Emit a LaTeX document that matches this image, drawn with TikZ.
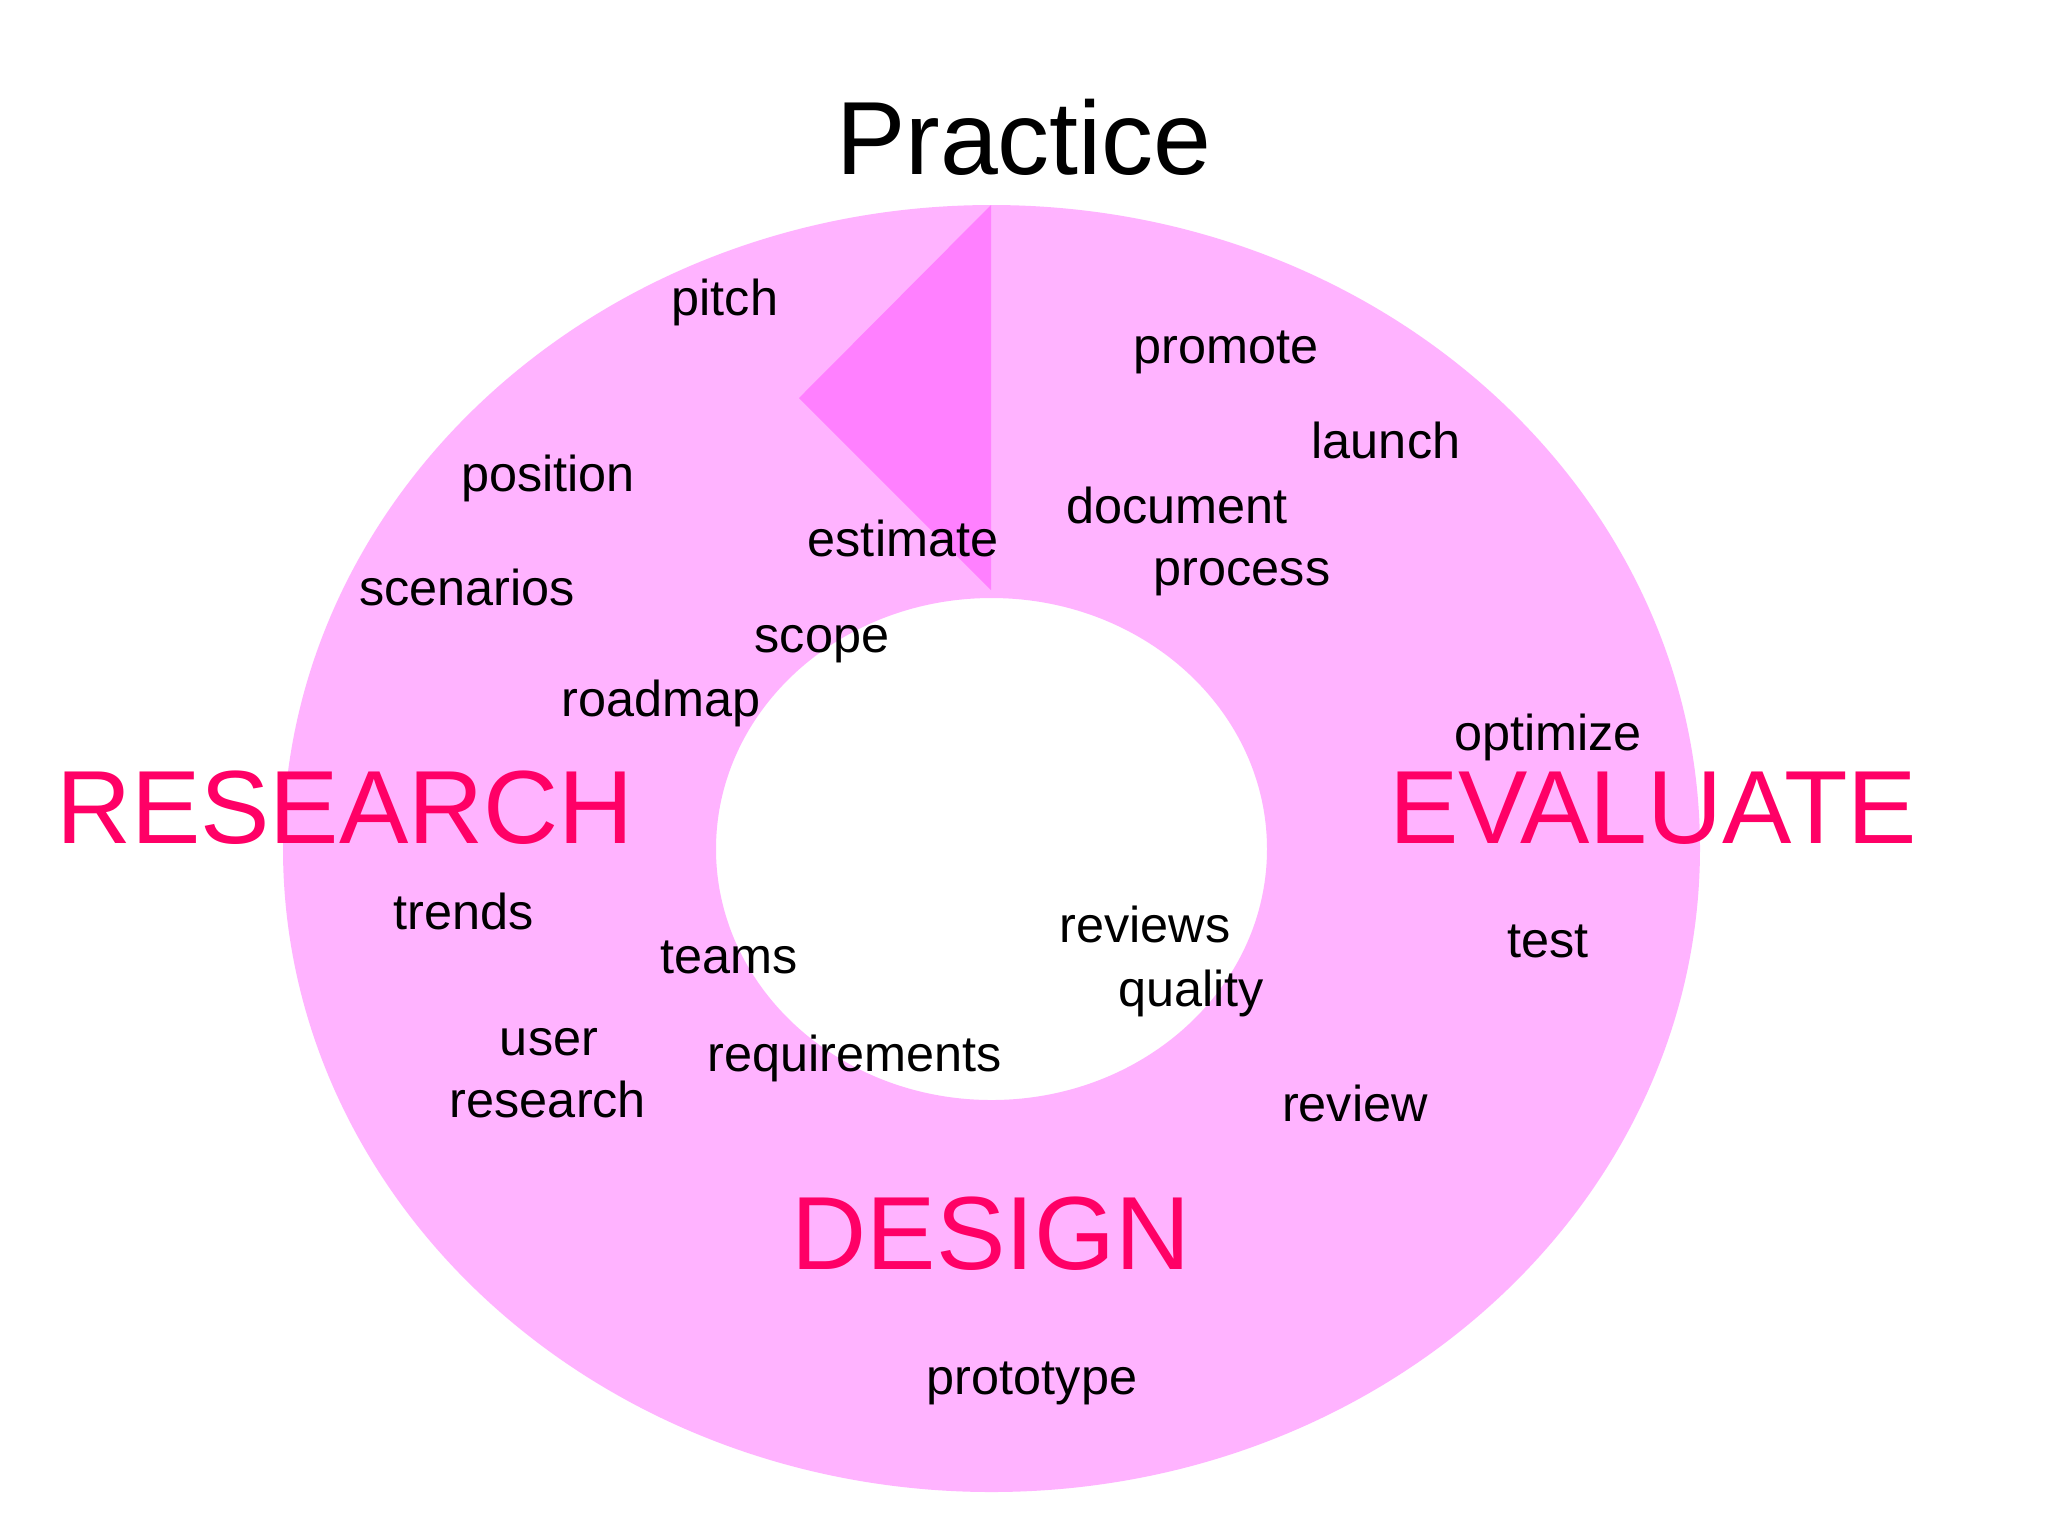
\documentclass[tikz,border=0pt]{standalone}
\usepackage{fontspec}
\setmainfont{Liberation Sans}
\definecolor{ringpink}{RGB}{255,179,255}
\definecolor{wedgepink}{RGB}{255,128,255}
\definecolor{phasered}{RGB}{255,0,102}
\begin{document}
\begin{tikzpicture}[x=0.25pt,y=-0.25pt,
  lbl/.style={anchor=base,inner sep=0pt,font=\fontsize{12.6}{15}\selectfont,text=black},
  phase/.style={anchor=base,inner sep=0pt,font=\fontsize{26}{31}\selectfont,text=phasered},
  ttl/.style={anchor=base,inner sep=0pt,font=\fontsize{26}{31}\selectfont,text=black}]
\useasboundingbox[fill=white] (0,0) rectangle (2048,1536);
% ring
\fill[ringpink,even odd rule] (991.5,848.5) ellipse [x radius=177.125pt, y radius=160.875pt]
  (991.5,849) ellipse [x radius=68.875pt, y radius=62.75pt];
% wedge
\fill[wedgepink] (991,205) -- (799,398) -- (991,590) -- cycle;
% title
\node[ttl] (practice) at (1024,174) {Practice};
% phases
\node[phase] (research) at (345,843) {RESEARCH};
\node[phase] (evaluate) at (1653,843) {EVALUATE};
\node[phase] (design) at (991,1269) {DESIGN};
% labels
\node[lbl] (pitch) at (725,315) {pitch};
\node[lbl] (promote) at (1226,363) {promote};
\node[lbl] (launch) at (1386,458) {launch};
\node[lbl] (position) at (548,491) {position};
\node[lbl] (document) at (1177,523) {document};
\node[lbl] (estimate) at (903,556) {estimate};
\node[lbl] (process) at (1242,585) {process};
\node[lbl] (scenarios) at (467,605) {scenarios};
\node[lbl] (scope) at (822,652) {scope};
\node[lbl] (roadmap) at (661,716) {roadmap};
\node[lbl] (optimize) at (1548,750) {optimize};
\node[lbl] (trends) at (464,929) {trends};
\node[lbl] (teams) at (729,973) {teams};
\node[lbl] (reviews) at (1145,942) {reviews};
\node[lbl] (quality) at (1191,1006) {quality};
\node[lbl] (test) at (1548,957) {test};
\node[lbl] (user) at (549,1055) {user};
\node[lbl] (userresearch) at (548,1117) {research};
\node[lbl] (requirements) at (855,1071) {requirements};
\node[lbl] (review) at (1355,1121) {review};
\node[lbl] (prototype) at (1032,1394) {prototype};
\end{tikzpicture}
\end{document}
